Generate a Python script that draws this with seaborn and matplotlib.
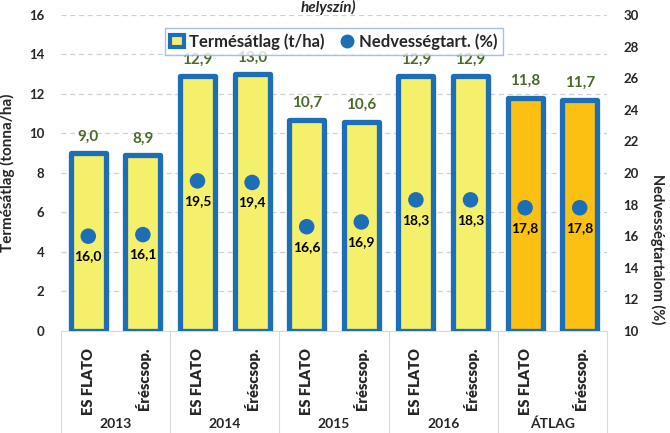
import numpy as np
import pandas as pd
import matplotlib
matplotlib.use("Agg")
import matplotlib.pyplot as plt
from matplotlib.lines import Line2D
from matplotlib.patches import Patch
import seaborn as sns

# adatok
evek = ["2013", "2014", "2015", "2016", "ÁTLAG"]
hibridek = ["ES FLATO", "Éréscsop."]
termes = [9.0, 8.9, 12.9, 13.0, 10.7, 10.6, 12.9, 12.9, 11.8, 11.7]
nedvesseg = [16.0, 16.1, 19.5, 19.4, 16.6, 16.9, 18.3, 18.3, 17.8, 17.8]

KEK = "#1C6FB7"
SARGA = "#F5F06B"
NARANCS = "#FBC012"
ZOLD = "#4A6A2A"

sns.set_theme(style="white")
plt.rcParams["font.family"] = ["Lato", "DejaVu Sans"]

df = pd.DataFrame({
    "ev": np.repeat(evek, 2),
    "hibrid": hibridek * len(evek),
    "termes": termes,
    "nedv": nedvesseg,
})
df["kulcs"] = df["ev"] + "|" + df["hibrid"]
szinek = [NARANCS if e == "ÁTLAG" else SARGA for e in df["ev"]]

fig = plt.figure(figsize=(6.7, 4.33), dpi=100)
ax = fig.add_axes([0.091, 0.2356, 0.815, 0.7298])

sns.barplot(data=df, x="kulcs", y="termes", hue="kulcs", palette=szinek,
            saturation=1, legend=False, width=0.64, edgecolor=KEK, linewidth=3.8,
            ax=ax, zorder=3)
for p in ax.patches:
    p.set_joinstyle("round")

ax.set_ylim(0, 16)
ax.set_yticks(range(0, 17, 2))
ax.set_xlim(-0.5, len(df) - 0.5)
ax.yaxis.grid(True, color="#D0D0D0", linestyle=(0, (4, 3)), linewidth=0.9, zorder=0)
for s in ["top", "right", "left"]:
    ax.spines[s].set_visible(False)
ax.spines["bottom"].set_color("#D9D9D9")
ax.spines["bottom"].set_linewidth(0.8)
ax.tick_params(axis="y", length=0, labelsize=9.5, pad=12)
for t in ax.get_yticklabels():
    t.set_fontweight("bold")
ax.set_ylabel("Termésátlag (tonna/ha)", fontsize=11, fontweight="bold", labelpad=10)
ax.set_xlabel("")
ax.set_xticks(range(len(df)))
ax.set_xticklabels(df["hibrid"], rotation=90, fontsize=10.5, fontweight="heavy")
ax.tick_params(axis="x", length=0, pad=12)

for i, v in enumerate(df["termes"]):
    ax.annotate(f"{v:.1f}".replace(".", ","), (i, v), xytext=(0, 7),
                textcoords="offset points", ha="center", va="bottom",
                fontsize=11, fontweight="bold", color=ZOLD)

ax2 = ax.twinx()
sns.scatterplot(x=np.arange(len(df)), y=df["nedv"], ax=ax2, s=125,
                color=KEK, edgecolor="none", zorder=5)
ax2.set_ylim(10, 30)
ax2.set_yticks(range(10, 31, 2))
for s in ["top", "right", "left", "bottom"]:
    ax2.spines[s].set_visible(False)
ax2.tick_params(axis="y", length=0, labelsize=9.5, pad=12)
for t in ax2.get_yticklabels():
    t.set_fontweight("bold")
ax2.set_ylabel("Nedvességtartalom (%)", fontsize=10.5, fontweight="bold",
               rotation=270, va="center")
ax2.yaxis.set_label_coords(1.093, 0.26)
for i, v in enumerate(df["nedv"]):
    ax2.annotate(f"{v:.1f}".replace(".", ","), (i, v), xytext=(0, -10),
                 textcoords="offset points", ha="center", va="top",
                 fontsize=10, fontweight="bold", color="black")

# évek és elválasztók a kategóriatengely alatt
trans = ax.get_xaxis_transform()
for k in range(len(evek) + 1):
    xpos = 2 * k - 0.5
    ax.plot([xpos, xpos], [0, -0.33], transform=trans, color="#D9D9D9",
            linewidth=0.8, clip_on=False)
for k, ev in enumerate(evek):
    ax.text(2 * k + 0.5, -0.295, ev, transform=trans, ha="center", va="center",
            fontsize=10, fontweight="bold")

kezek = [Patch(facecolor=SARGA, edgecolor=KEK, linewidth=3, label="Termésátlag (t/ha)"),
         Line2D([], [], marker="o", linestyle="none", color=KEK, markersize=9,
                label="Nedvességtart. (%)")]
leg = ax.legend(handles=kezek, loc="upper center", bbox_to_anchor=(0.5, 0.985),
                ncol=2, frameon=True, fancybox=False, fontsize=12,
                handlelength=0.8, handletextpad=0.3, columnspacing=1.0,
                borderpad=0.3)
leg.get_frame().set_edgecolor("#8DB3E2")
leg.get_frame().set_linewidth(1.0)
for t in leg.get_texts():
    t.set_fontweight("bold")
leg.set_zorder(10)

fig.text(0.49, 0.999, "helyszín)", ha="center", va="top",
         fontsize=11, fontweight="bold", style="italic")

fig.savefig("out.png", dpi=100)
